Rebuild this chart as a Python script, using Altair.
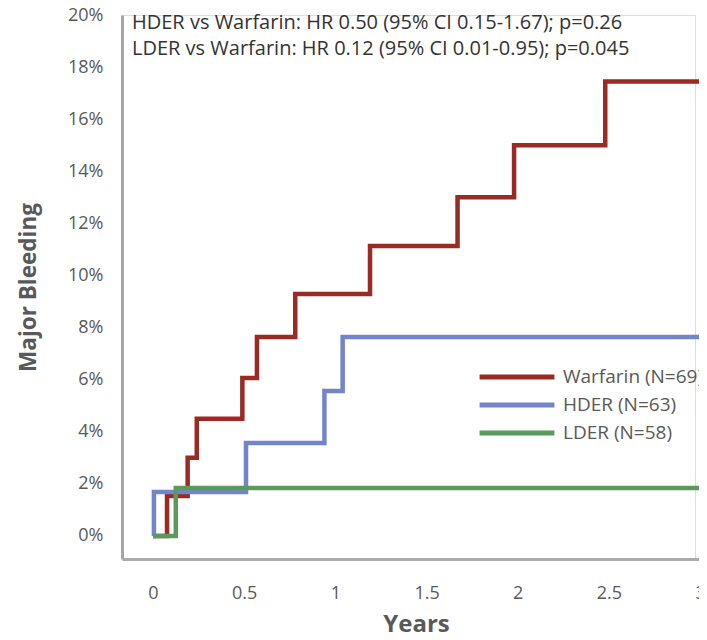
import altair as alt
import pandas as pd

# ---- data ----
series_names = ["Warfarin (N=69)", "HDER (N=63)", "LDER (N=58)"]
series_colors = ["#9A2A24", "#7385C9", "#5A9B5C"]

warfarin_years = [0, 0.077, 0.19, 0.24, 0.49, 0.57, 0.78, 1.19, 1.67, 1.98, 2.48, 3.0]
warfarin_pct = [0, 1.54, 3.0, 4.5, 6.07, 7.64, 9.29, 11.13, 13.0, 15.0, 17.45, 17.45]

hder_years = [0, 0.005, 0.51, 0.94, 1.04, 3.0]
hder_pct = [0, 1.69, 3.57, 5.57, 7.64, 7.64]

lder_years = [0, 0.125, 3.0]
lder_pct = [0, 1.84, 1.84]

y_ticks = [0, 2, 4, 6, 8, 10, 12, 14, 16, 18, 20]
x_ticks = [0, 0.5, 1, 1.5, 2, 2.5, 3]

annotation_lines = [
    "HDER vs Warfarin: HR 0.50 (95% CI 0.15-1.67); p=0.26",
    "LDER vs Warfarin: HR  0.12 (95% CI 0.01-0.95); p=0.045",
]

rows = []
for name, xs, ys in zip(series_names,
                        [warfarin_years, hder_years, lder_years],
                        [warfarin_pct, hder_pct, lder_pct]):
    for i, (x, y) in enumerate(zip(xs, ys)):
        rows.append({"series": name, "years": x, "pct": y, "order": i})
df = pd.DataFrame(rows)

W, H = 573, 544          # visible plot width (page clips the rest)
X_RANGE = 581            # full x range in pixels
grey = "#595959"
FONT = "Open Sans"

lines = alt.Chart(df).mark_line(interpolate="step-after", strokeWidth=4.5).encode(
    x=alt.X("years:Q",
            scale=alt.Scale(domain=[-0.17, 3.016], range=[0, X_RANGE], nice=False, zero=False),
            axis=alt.Axis(values=x_ticks, format="~g", title="Years", grid=False,
                          ticks=False, domainColor="#ABABAB", domainWidth=3,
                          labelFontSize=18, labelColor=grey, labelPadding=25,
                          titleFontSize=24, titleFontWeight="bold", titleColor=grey,
                          titlePadding=10, titleX=294, labelFont=FONT, titleFont=FONT)),
    y=alt.Y("pct:Q",
            scale=alt.Scale(domain=[-0.883, 20.0], nice=False, zero=False),
            axis=alt.Axis(values=y_ticks, labelExpr="datum.value + '%'", title="Major Bleeding",
                          grid=False, ticks=False, domainColor="#A6A6A6", domainWidth=3,
                          labelFontSize=18, labelColor=grey, labelPadding=19,
                          titleFontSize=22.5, titleFontWeight="bold", titleColor=grey,
                          titlePadding=27, labelFont=FONT, titleFont=FONT)),
    color=alt.Color("series:N",
                    scale=alt.Scale(domain=series_names, range=series_colors),
                    sort=series_names,
                    legend=alt.Legend(title=None, orient="none", legendX=355, legendY=348,
                                      symbolType="stroke", symbolSize=5600,
                                      symbolStrokeWidth=5, clipHeight=28, rowPadding=0,
                                      labelFontSize=19, labelColor=grey, labelOffset=6,
                                      labelFont=FONT, labelLimit=300)),
    order="order:Q",
    detail="series:N",
)

ann_df = pd.DataFrame({"line": annotation_lines, "row": [0, 1]})
annotation = alt.Chart(ann_df).mark_text(
    align="left", baseline="middle", fontSize=20, color="#333333", font=FONT
).encode(
    text="line:N",
    x=alt.value(10),
    y=alt.Y("row:Q", scale=alt.Scale(domain=[0, 1], range=[8, 34]), axis=None),
)

chart = alt.layer(lines, annotation).resolve_scale(y="independent").properties(
    width=W, height=H,
    autosize=alt.AutoSizeParams(type="none"),
    padding={"left": 114, "top": 7, "right": 4, "bottom": 77},
).configure_view(stroke=None).configure(background="white")

chart.save("out.html", embed_options={"renderer": "svg", "actions": False})
